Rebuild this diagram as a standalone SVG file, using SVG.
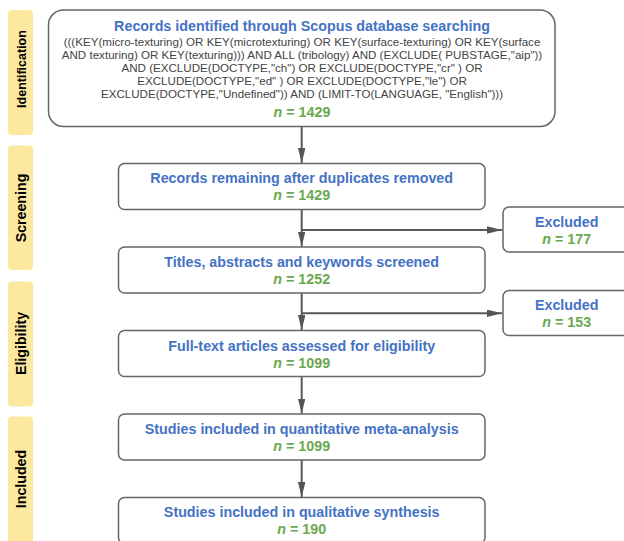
<svg xmlns="http://www.w3.org/2000/svg" width="624" height="541" viewBox="0 0 624 541">
<style>
.bg{fill:#ffffff}
.phase{fill:#fde8a0;stroke:none}
.phase-t{font-family:"Liberation Sans",Arial,sans-serif;font-weight:bold;font-size:14.2px;fill:#000000;text-anchor:middle}
.box{fill:#ffffff;stroke:#666666;stroke-width:1.5}
.title{font-family:"Liberation Sans",Arial,sans-serif;font-weight:bold;font-size:14.3px;fill:#4472c4;text-anchor:middle}
.num{font-family:"Liberation Sans",Arial,sans-serif;font-weight:bold;font-size:14.3px;fill:#6aa84f;text-anchor:middle}
.body{font-family:"Liberation Sans",Arial,sans-serif;font-size:11.6px;fill:#434343;text-anchor:middle}
.conn{fill:none;stroke:#595959;stroke-width:2;marker-end:url(#arrow)}
</style>
<defs>
<marker id="arrow" markerUnits="userSpaceOnUse" markerWidth="16" markerHeight="8" refX="15" refY="3.75" orient="auto">
<path d="M0,0 L15,3.75 L0,7.5 z" fill="#555555"/>
</marker>
</defs>
<rect class="bg" x="0" y="0" width="624" height="541"/>

<g id="phase-identification">
<rect class="phase" x="8" y="10" width="25" height="125" rx="4"/>
<text class="phase-t" style="font-size:12.5px" transform="translate(25.5,69) rotate(-90)">Identification</text>
</g>
<g id="phase-screening">
<rect class="phase" x="8" y="145.5" width="25" height="124.5" rx="4"/>
<text class="phase-t" transform="translate(26,208) rotate(-90)">Screening</text>
</g>
<g id="phase-eligibility">
<rect class="phase" x="8" y="281.5" width="25" height="125" rx="4"/>
<text class="phase-t" transform="translate(26,343.5) rotate(-90)">Eligibility</text>
</g>
<g id="phase-included">
<rect class="phase" x="8" y="416.5" width="25" height="135" rx="4"/>
<text class="phase-t" transform="translate(26,479) rotate(-90)">Included</text>
</g>

<g id="connectors">
<path class="conn" d="M301.7,126.5 L301.7,163"/>
<path class="conn" d="M301.7,209.5 L301.7,246.5"/>
<path class="conn" d="M301.7,230 L502,230"/>
<path class="conn" d="M301.7,293 L301.7,330"/>
<path class="conn" d="M301.7,313.3 L502,313.3"/>
<path class="conn" d="M301.7,376.5 L301.7,413.5"/>
<path class="conn" d="M301.7,460 L301.7,497"/>
</g>

<g id="node-identified">
<rect class="box" x="48.5" y="10" width="506.5" height="116.5" rx="15"/>
<text class="title" x="302" y="30.5">Records identified through Scopus database searching</text>
<text class="body" x="302" y="46">(((KEY(micro-texturing) OR KEY(microtexturing) OR KEY(surface-texturing) OR KEY(surface</text>
<text class="body" x="302" y="59">AND texturing) OR KEY(texturing))) AND ALL (tribology) AND (EXCLUDE( PUBSTAGE,"aip"))</text>
<text class="body" x="302" y="72">AND (EXCLUDE(DOCTYPE,"ch") OR EXCLUDE(DOCTYPE,"cr" ) OR</text>
<text class="body" x="302" y="85">EXCLUDE(DOCTYPE,"ed" ) OR EXCLUDE(DOCTYPE,"le") OR</text>
<text class="body" x="302" y="98">EXCLUDE(DOCTYPE,"Undefined")) AND (LIMIT-TO(LANGUAGE, "English")))</text>
<text class="num" x="302" y="116.5"><tspan font-style="italic">n</tspan> = 1429</text>
</g>

<g id="node-duplicates">
<rect class="box" x="118.5" y="163.5" width="366.5" height="46" rx="6"/>
<text class="title" x="301.7" y="183.3">Records remaining after duplicates removed</text>
<text class="num" x="301.7" y="200.3"><tspan font-style="italic">n</tspan> = 1429</text>
</g>

<g id="node-excluded-1">
<rect class="box" x="503" y="207" width="128" height="45" rx="6"/>
<text class="title" x="566.7" y="226.5">Excluded</text>
<text class="num" x="566.7" y="243.5"><tspan font-style="italic">n</tspan> = 177</text>
</g>

<g id="node-screened">
<rect class="box" x="118.5" y="247" width="366.5" height="46" rx="6"/>
<text class="title" x="301.7" y="267">Titles, abstracts and keywords screened</text>
<text class="num" x="301.7" y="284"><tspan font-style="italic">n</tspan> = 1252</text>
</g>

<g id="node-excluded-2">
<rect class="box" x="503" y="290.5" width="128" height="45" rx="6"/>
<text class="title" x="566.7" y="310.3">Excluded</text>
<text class="num" x="566.7" y="327.3"><tspan font-style="italic">n</tspan> = 153</text>
</g>

<g id="node-fulltext">
<rect class="box" x="118.5" y="330.5" width="366.5" height="46" rx="6"/>
<text class="title" x="301.7" y="350.5">Full-text articles assessed for eligibility</text>
<text class="num" x="301.7" y="367.5"><tspan font-style="italic">n</tspan> = 1099</text>
</g>

<g id="node-quantitative">
<rect class="box" x="118.5" y="414" width="366.5" height="46" rx="6"/>
<text class="title" x="301.7" y="434">Studies included in quantitative meta-analysis</text>
<text class="num" x="301.7" y="451"><tspan font-style="italic">n</tspan> = 1099</text>
</g>

<g id="node-qualitative">
<rect class="box" x="118.5" y="497.5" width="366.5" height="46" rx="6"/>
<text class="title" x="301.7" y="517.3">Studies included in qualitative synthesis</text>
<text class="num" x="301.7" y="534.3"><tspan font-style="italic">n</tspan> = 190</text>
</g>
</svg>
